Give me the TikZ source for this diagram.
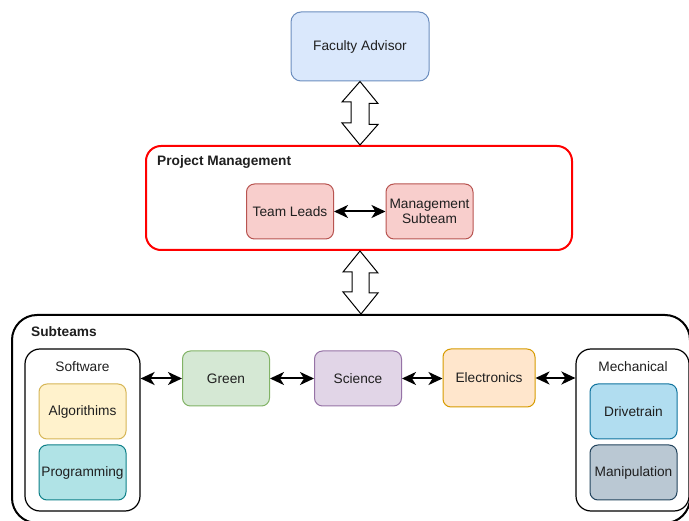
\documentclass[tikz,border=0pt]{standalone}
\usepackage{fontspec}
\setmainfont{Liberation Sans}
\usetikzlibrary{arrows.meta,calc}
\definecolor{txt}{HTML}{1F1F1F}
\definecolor{blueF}{HTML}{DAE8FC}\definecolor{blueS}{HTML}{6C8EBF}
\definecolor{redF}{HTML}{F8CECC}\definecolor{redS}{HTML}{B85450}
\definecolor{yelF}{HTML}{FFF2CC}\definecolor{yelS}{HTML}{D6B656}
\definecolor{tealF}{HTML}{B0E3E6}\definecolor{tealS}{HTML}{0E8088}
\definecolor{grnF}{HTML}{D5E8D4}\definecolor{grnS}{HTML}{82B366}
\definecolor{purF}{HTML}{E1D5E7}\definecolor{purS}{HTML}{9673A6}
\definecolor{orgF}{HTML}{FFE6CC}\definecolor{orgS}{HTML}{D79B00}
\definecolor{skyF}{HTML}{B1DDF0}\definecolor{skyS}{HTML}{10739E}
\definecolor{slateF}{HTML}{BAC8D3}\definecolor{slateS}{HTML}{23445D}
\definecolor{pmred}{HTML}{FF0000}
\tikzset{
  box/.style={draw, rounded corners=8pt, line width=1pt, minimum width=87pt, minimum height=55pt, align=center, text=txt, inner sep=1pt, font=\fontsize{13.7}{15.5}\selectfont},
  group/.style={draw, rounded corners=15pt, line width=1.2pt, fill=white},
  title/.style={text=txt, font=\fontsize{13.7}{15.5}\selectfont\bfseries, inner sep=0pt},
  label/.style={text=txt, font=\fontsize{13.7}{15.5}\selectfont, inner sep=0pt},
  link/.style={line width=2pt, black, {Stealth[length=14pt,width=13pt,inset=4pt]}-{Stealth[length=14pt,width=13pt,inset=4pt]}},
  blockarrow/.style={draw=black, line width=1pt, fill=white, line join=miter}
}
\begin{document}
\begin{tikzpicture}[x=1pt,y=-1pt]
\clip (0,0) rectangle (689,521);
\useasboundingbox (0,0) rectangle (689,521);
\fill[white] (0,0) rectangle (689,521);

% Faculty Advisor
\node[box, fill=blueF, draw=blueS, minimum width=138pt, minimum height=69pt, rounded corners=10pt] (fa) at (360,46.5) {Faculty Advisor};

% Project Management
\node[draw=pmred, line width=2pt, rounded corners=15pt, minimum width=426pt, minimum height=104pt] (pm) at (359,198) {};
\node[title, anchor=west] (pmt) at (157,162) {Project Management};
\node[box, fill=redF, draw=redS] (tl) at (290,211.5) {Team Leads};
\node[box, fill=redF, draw=redS] (ms) at (429.5,211.5) {Management\\Subteam};
\draw[link] (tl.east) -- (ms.west);

% Block arrows
\draw[blockarrow] (fa.south) -- ++(18,22) -- ++(-9,0) -- ++(0,21) -- ++(9,0) -- ($(pm.north)+(1,0)$) -- ++(-18,-22) -- ++(9,0) -- ++(0,-21) -- ++(-9,0) -- cycle;

% Subteams
\node[draw=black, line width=2pt, rounded corners=25pt, minimum width=678pt, minimum height=208pt] (st) at (351,419) {};
\node[title, anchor=west] (stt) at (31,332) {Subteams};

\draw[blockarrow] ($(pm.south)+(1,0)$) -- ++(18,22) -- ++(-9,0) -- ++(0,20) -- ++(9,0) -- ($(st.north)+(10,0)$) -- ++(-18,-22) -- ++(9,0) -- ++(0,-20) -- ++(-9,0) -- cycle;

% Software group
\node[group, minimum width=115pt, minimum height=162pt] (sw) at (82.5,430) {};
\node[label] (swt) at (82.5,367) {Software};
\node[box, fill=yelF, draw=yelS] (alg) at (82.5,411.5) {Algorithims};
\node[box, fill=tealF, draw=tealS] (prog) at (82.5,472.5) {Programming};

% Middle teams
\node[box, fill=grnF, draw=grnS] (green) at (226,378.5) {Green};
\node[box, fill=purF, draw=purS] (sci) at (358,378.5) {Science};
\node[box, fill=orgF, draw=orgS, minimum width=92pt, minimum height=58pt] (elec) at (489,378) {Electronics};

% Mechanical group
\node[group, minimum width=113pt, minimum height=162pt] (mech) at (632.5,430) {};
\node[label] (mecht) at (633,367) {Mechanical};
\node[box, fill=skyF, draw=skyS] (drv) at (633.5,411.5) {Drivetrain};
\node[box, fill=slateF, draw=slateS] (man) at (633.5,472.5) {Manipulation};

% Links
\draw[link] (green.west -| sw.east) -- (green.west);
\draw[link] (green.east) -- (sci.west);
\draw[link] (sci.east) -- (sci.east -| elec.west);
\draw[link] (elec.east) -- (elec.east -| mech.west);
\end{tikzpicture}
\end{document}
